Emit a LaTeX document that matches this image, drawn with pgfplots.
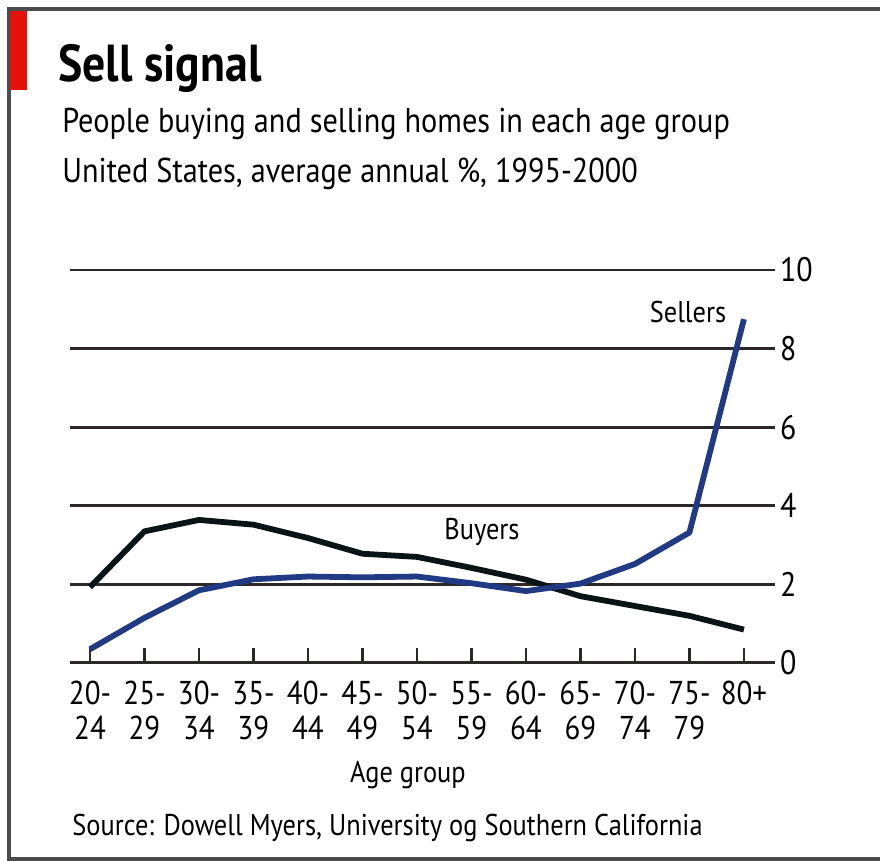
\documentclass[border=0pt]{standalone}
\usepackage{fontspec}
\setmainfont{PT Sans}[FakeStretch=0.88]
\usepackage{pgfplots}
\pgfplotsset{compat=1.18}
\definecolor{ecored}{RGB}{227,18,11}
\definecolor{sellblue}{RGB}{32,58,132}
\definecolor{buyblack}{RGB}{10,20,22}
\definecolor{gridc}{RGB}{45,40,40}
\begin{document}
\begin{tikzpicture}[x=0.5pt,y=-0.5pt]
\useasboundingbox (0,0) rectangle (880,861);
% frame
\draw[black!70, line width=1.6pt] (880,9) -- (9,9) -- (9,859) -- (880,859);
\fill[ecored] (10,11) rectangle (27,90);
% titles
\node[anchor=base west, inner sep=0, font=\bfseries\fontsize{26}{30}\selectfont] at (58,82) {Sell signal};
\node[anchor=base west, inner sep=0, font=\fontsize{17.2}{20}\selectfont] at (62,133) {People buying and selling homes in each age group};
\node[anchor=base west, inner sep=0, font=\fontsize{17.2}{20}\selectfont] at (62,183) {United States, average annual \%, 1995-2000};
\begin{axis}[
  at={(35pt,-331.5pt)}, anchor=south west,
  width=352.5pt, height=196.5pt, scale only axis,
  xmin=-0.367, xmax=12.57, ymin=0, ymax=10,
  axis x line*=bottom, axis y line*=right,
  y axis line style={draw=none},
  x axis line style={gridc, line width=1.5pt},
  xtick={0,...,12},
  xticklabels={{20-\\24},{25-\\29},{30-\\34},{35-\\39},{40-\\44},{45-\\49},{50-\\54},{55-\\59},{60-\\64},{65-\\69},{70-\\74},{75-\\79},{80+}},
  xticklabel style={font=\fontsize{16.5}{17.5}\selectfont, align=center, anchor=north, yshift=-5.5pt},
  ytick={0,2,...,10},
  yticklabel style={font=\fontsize{17}{18}\selectfont, anchor=west, xshift=-1pt},
  /pgf/number format/assume math mode=true,
  ytick style={draw=none},
  xtick style={gridc, line width=1.2pt},
  tick align=inside,
  major tick length=7.5pt,
  ymajorgrids=true,
  major grid style={gridc, line width=1.4pt},
  clip=false,
]
\addplot[buyblack, line width=2.9pt, line join=round] coordinates {
 (0,1.93) (1,3.35) (2,3.64) (3,3.52) (4,3.18) (5,2.78) (6,2.70) (7,2.42) (8,2.12) (9,1.70) (10,1.45) (11,1.20) (12,0.85)};
\addplot[sellblue, line width=2.9pt, line join=round] coordinates {
 (0,0.35) (1,1.15) (2,1.85) (3,2.13) (4,2.20) (5,2.18) (6,2.20) (7,2.03) (8,1.83) (9,2.02) (10,2.52) (11,3.32) (12,8.75)};
\end{axis}
\node[font=\fontsize{15}{18}\selectfont] at (688,312) {Sellers};
\node[font=\fontsize{15}{18}\selectfont] at (482,532) {Buyers};
\node[anchor=base, inner sep=0, font=\fontsize{15}{18}\selectfont] at (408,783) {Age group};
\node[anchor=base west, inner sep=0, font=\fontsize{15}{18}\selectfont] at (72,835) {Source: Dowell Myers, University og Southern California};
\end{tikzpicture}
\end{document}
